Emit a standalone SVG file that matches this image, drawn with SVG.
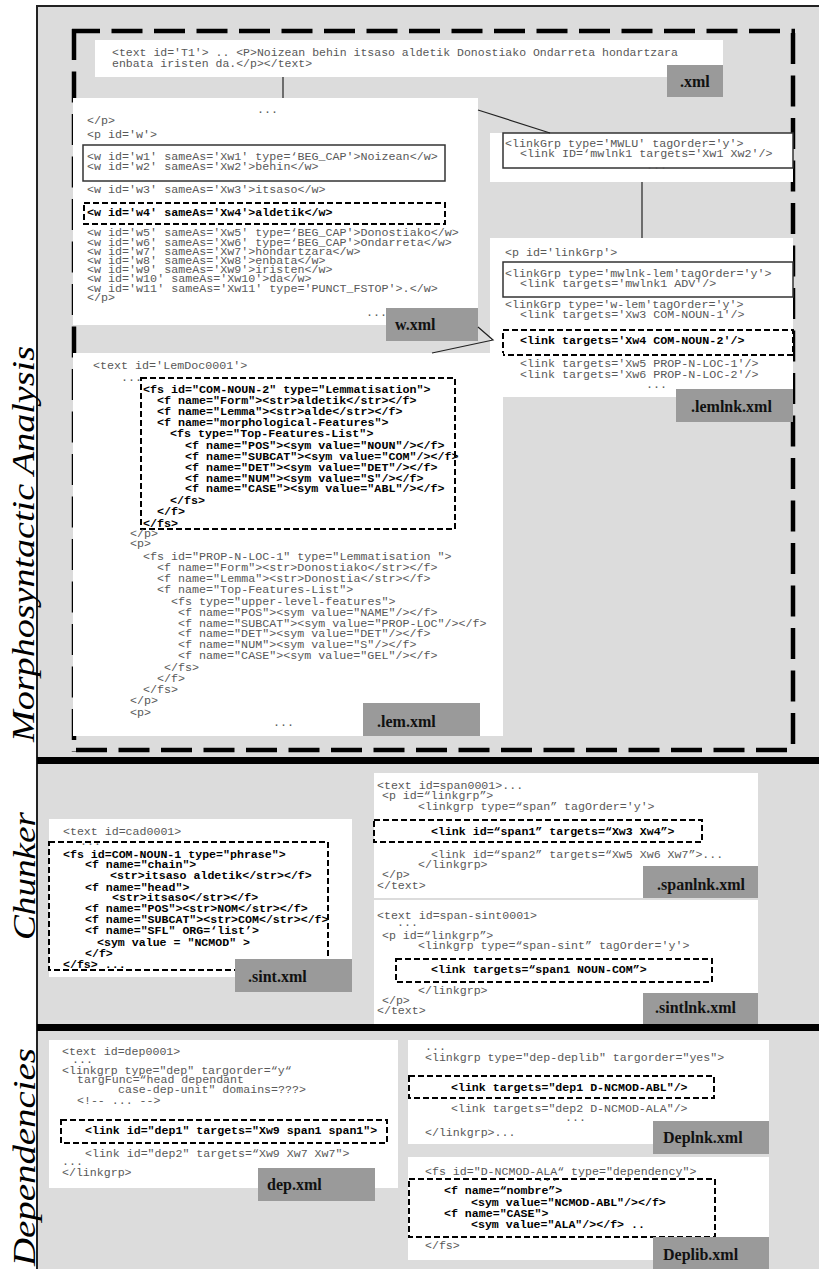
<svg xmlns="http://www.w3.org/2000/svg" width="819" height="1269" viewBox="0 0 819 1269">
<style>
.bg{fill:#dcdcdc}
.box{fill:#fff}
.tag{fill:#9a9a9a}
.tl{font-family:"Liberation Serif","Times New Roman",serif;font-weight:bold;font-size:16px;fill:#111}
.m{font-family:"Liberation Mono","Courier New",monospace;font-size:11.6px;fill:#585858}
.mw{font-size:11.7px}
.b{font-weight:bold;fill:#000}
.dr{fill:none;stroke:#000;stroke-width:2;stroke-dasharray:6 3}
.sr{fill:none;stroke:#333;stroke-width:1.5}
.big{stroke:#000;stroke-width:4.5;stroke-dasharray:31 11.5;fill:none}
.conn{stroke:#222;stroke-width:1.2;fill:none}
.side{font-family:"Liberation Serif","Times New Roman",serif;font-style:italic;font-size:31px;fill:#000}
</style>
<rect x="0" y="0" width="819" height="1269" fill="#fff"/>
<g id="frame">
<rect class="bg" x="37" y="6" width="782" height="1263"/>
<path d="M37,1269 V6 H819" stroke="#222" stroke-width="2" fill="none"/>
<rect x="37" y="757" width="782" height="7" fill="#000"/>
<rect x="37" y="1024" width="782" height="7" fill="#000"/>
</g>
<g id="section-labels">
<text class="side" transform="translate(34,544) rotate(-90)" text-anchor="middle" textLength="396" lengthAdjust="spacingAndGlyphs">Morphosyntactic Analysis</text>
<text class="side" transform="translate(35,876) rotate(-90)" text-anchor="middle" textLength="128" lengthAdjust="spacingAndGlyphs">Chunker</text>
<text class="side" transform="translate(35,1157) rotate(-90)" text-anchor="middle" textLength="218" lengthAdjust="spacingAndGlyphs">Dependencies</text>
</g>
<g id="morph-region">
<line class="big" x1="72" y1="31" x2="795" y2="31" stroke-dashoffset="3"/>
<line class="big" x1="74" y1="29" x2="74" y2="752"/>
<line class="big" x1="793" y1="33" x2="793" y2="752"/>
<line class="big" x1="76" y1="750" x2="795" y2="750"/>
</g>

<g id="n-t1">
<rect class="box" x="95" y="40" width="628" height="37"/>
<text class="m" style="font-size:11.5px"><tspan x="112" y="55.5">&lt;text id='T1'&gt; .. &lt;P&gt;Noizean behin itsaso aldetik Donostiako Ondarreta hondartzara</tspan><tspan x="112" y="67">enbata iristen da.&lt;/p&gt;&lt;/text&gt;</tspan></text>
<rect class="tag" x="667" y="65" width="56" height="32"/>
<text class="tl" x="680" y="87">.xml</text>
</g>

<g id="n-wxml">
<rect class="box" x="73" y="98" width="405" height="227"/>
<rect class="sr" x="83" y="145" width="362" height="36"/>
<rect class="dr" x="84" y="203" width="361" height="21"/>
<text class="m mw"><tspan x="257" y="113">...</tspan><tspan x="87" y="124">&lt;/p&gt;</tspan><tspan x="87" y="138">&lt;p id='w'&gt;</tspan><tspan x="87" y="160">&lt;w id='w1' sameAs='Xw1' type=‘BEG_CAP'&gt;Noizean&lt;/w&gt;</tspan><tspan x="87" y="169.5">&lt;w id='w2' sameAs='Xw2'&gt;behin&lt;/w&gt;</tspan><tspan x="87" y="193">&lt;w id='w3' sameAs='Xw3'&gt;itsaso&lt;/w&gt;</tspan><tspan class="b" x="87" y="215.5">&lt;w id='w4' sameAs='Xw4'&gt;aldetik&lt;/w&gt;</tspan><tspan x="87" y="235.5">&lt;w id='w5' sameAs='Xw5' type=‘BEG_CAP'&gt;Donostiako&lt;/w&gt;</tspan><tspan x="87" y="245.5">&lt;w id='w6' sameAs='Xw6' type=‘BEG_CAP'&gt;Ondarreta&lt;/w&gt;</tspan><tspan x="87" y="254.5">&lt;w id='w7' sameAs='Xw7'&gt;hondartzara&lt;/w&gt;</tspan><tspan x="87" y="263.5">&lt;w id='w8' sameAs='Xw8'&gt;enbata&lt;/w&gt;</tspan><tspan x="87" y="272.5">&lt;w id='w9' sameAs='Xw9'&gt;iristen&lt;/w&gt;</tspan><tspan x="87" y="281.5">&lt;w id='w10' sameAs='Xw10'&gt;da&lt;/w&gt;</tspan><tspan x="87" y="291.5">&lt;w id='w11' sameAs='Xw11' type='PUNCT_FSTOP'&gt;.&lt;/w&gt;</tspan><tspan x="87" y="300.5">&lt;/p&gt;</tspan><tspan x="366" y="316">...</tspan></text>
<rect class="tag" x="386" y="308" width="92" height="33"/>
<text class="tl" x="395" y="330">w.xml</text>
</g>

<g id="n-mwlu">
<rect class="box" x="490" y="133" width="303" height="49"/>
<rect class="sr" x="503" y="133" width="290" height="35"/>
<text class="m mw"><tspan x="505" y="146.5">&lt;linkGrp type='MWLU' tagOrder='y'&gt;</tspan><tspan x="520" y="156.5">&lt;link ID=‘mwlnk1 targets='Xw1 Xw2'/&gt;</tspan><tspan x="646" y="169">...</tspan></text>
</g>

<g id="n-lemlnk">
<rect class="box" x="490" y="238" width="303" height="159"/>
<rect class="sr" x="503" y="262" width="290" height="35"/>
<rect class="dr" x="503" y="330" width="290" height="25"/>
<text class="m mw"><tspan x="505" y="255.5">&lt;p id='linkGrp'&gt;</tspan><tspan x="505" y="276.5">&lt;linkGrp type='mwlnk-lem'tagOrder='y'&gt;</tspan><tspan x="520" y="286.5">&lt;link targets='mwlnk1 ADV'/&gt;</tspan><tspan x="505" y="307.5">&lt;linkGrp type='w-lem'tagOrder='y'&gt;</tspan><tspan x="520" y="317.5">&lt;link targets='Xw3 COM-NOUN-1'/&gt;</tspan><tspan class="b" x="520" y="343.5">&lt;link targets='Xw4 COM-NOUN-2'/&gt;</tspan><tspan x="520" y="366.5">&lt;link targets='Xw5 PROP-N-LOC-1'/&gt;</tspan><tspan x="520" y="377.5">&lt;link targets='Xw6 PROP-N-LOC-2'/&gt;</tspan><tspan x="646" y="388">...</tspan></text>
<rect class="tag" x="676" y="389" width="117" height="33"/>
<text class="tl" x="691" y="412">.lemlnk.xml</text>
</g>

<g id="n-lem">
<rect class="box" x="73" y="353" width="430" height="383"/>
<rect class="dr" x="141" y="378" width="314" height="151"/>
<text class="m mw"><tspan x="93" y="368.5">&lt;text id='LemDoc0001'&gt;</tspan><tspan x="121" y="381">...</tspan><tspan class="b" x="143" y="392.5">&lt;fs id="COM-NOUN-2" type="Lemmatisation"&gt;</tspan><tspan class="b" x="157" y="403.5">&lt;f name="Form"&gt;&lt;str&gt;aldetik&lt;/str&gt;&lt;/f&gt;</tspan><tspan class="b" x="157" y="414.5">&lt;f name="Lemma"&gt;&lt;str&gt;alde&lt;/str&gt;&lt;/f&gt;</tspan><tspan class="b" x="157" y="425.5">&lt;f name="morphological-Features"&gt;</tspan><tspan class="b" x="170" y="436.5">&lt;fs type="Top-Features-List"&gt;</tspan><tspan class="b" x="185" y="448.5">&lt;f name="POS"&gt;&lt;sym value="NOUN"/&gt;&lt;/f&gt;</tspan><tspan class="b" x="185" y="459.5">&lt;f name="SUBCAT"&gt;&lt;sym value="COM"/&gt;&lt;/f&gt;</tspan><tspan class="b" x="185" y="470.5">&lt;f name="DET"&gt;&lt;sym value="DET"/&gt;&lt;/f&gt;</tspan><tspan class="b" x="185" y="481.5">&lt;f name="NUM"&gt;&lt;sym value="S"/&gt;&lt;/f&gt;</tspan><tspan class="b" x="185" y="491.5">&lt;f name="CASE"&gt;&lt;sym value="ABL"/&gt;&lt;/f&gt;</tspan><tspan class="b" x="170" y="503.5">&lt;/fs&gt;</tspan><tspan class="b" x="157" y="515">&lt;/f&gt;</tspan><tspan class="b" x="143" y="526.5">&lt;/fs&gt;</tspan><tspan x="130" y="536.5">&lt;/p&gt;</tspan><tspan x="130" y="546.5">&lt;p&gt;</tspan><tspan x="143" y="559.5">&lt;fs id="PROP-N-LOC-1" type="Lemmatisation "&gt;</tspan><tspan x="157" y="570.5">&lt;f name="Form"&gt;&lt;str&gt;Donostiako&lt;/str&gt;&lt;/f&gt;</tspan><tspan x="157" y="581.5">&lt;f name="Lemma"&gt;&lt;str&gt;Donostia&lt;/str&gt;&lt;/f&gt;</tspan><tspan x="157" y="592.5">&lt;f name="Top-Features-List"&gt;</tspan><tspan x="171" y="604.5">&lt;fs type="upper-level-features"&gt;</tspan><tspan x="178" y="615.5">&lt;f name="POS"&gt;&lt;sym value="NAME"/&gt;&lt;/f&gt;</tspan><tspan x="178" y="626.5">&lt;f name="SUBCAT"&gt;&lt;sym value="PROP-LOC"/&gt;&lt;/f&gt;</tspan><tspan x="178" y="636.5">&lt;f name="DET"&gt;&lt;sym value="DET"/&gt;&lt;/f&gt;</tspan><tspan x="178" y="647.5">&lt;f name="NUM"&gt;&lt;sym value="S"/&gt;&lt;/f&gt;</tspan><tspan x="178" y="658.5">&lt;f name="CASE"&gt;&lt;sym value="GEL"/&gt;&lt;/f&gt;</tspan><tspan x="164" y="670.5">&lt;/fs&gt;</tspan><tspan x="157" y="681.5">&lt;/f&gt;</tspan><tspan x="143" y="692.5">&lt;/fs&gt;</tspan><tspan x="130" y="703.5">&lt;/p&gt;</tspan><tspan x="130" y="715.5">&lt;p&gt;</tspan><tspan x="273" y="726">...</tspan></text>
<rect class="tag" x="363" y="703" width="117" height="33"/>
<text class="tl" x="377" y="727">.lem.xml</text>
</g>

<g id="n-sint">
<rect class="box" x="49" y="819" width="303" height="158"/>
<rect class="dr" x="49" y="842" width="279" height="128"/>
<text class="m"><tspan x="63" y="834.5">&lt;text id=cad0001&gt;</tspan><tspan x="80" y="845">...</tspan><tspan class="b" x="63" y="857.5">&lt;fs id=COM-NOUN-1 type="phrase"&gt;</tspan><tspan class="b" x="85" y="867.5">&lt;f name="chain"&gt;</tspan><tspan class="b" x="110" y="878.5">&lt;str&gt;itsaso aldetik&lt;/str&gt;&lt;/f&gt;</tspan><tspan class="b" x="85" y="890.5">&lt;f name="head"&gt;</tspan><tspan class="b" x="112" y="900.5">&lt;str&gt;itsaso&lt;/str&gt;&lt;/f&gt;</tspan><tspan class="b" x="85" y="911.5">&lt;f name="POS"&gt;&lt;str&gt;NOM&lt;/str&gt;&lt;/f&gt;</tspan><tspan class="b" x="85" y="922.5">&lt;f name="SUBCAT"&gt;&lt;str&gt;COM&lt;/str&gt;&lt;/f&gt;</tspan><tspan class="b" x="85" y="933.5">&lt;f name="SFL" ORG=‘list’&gt;</tspan><tspan class="b" x="97" y="945.5">&lt;sym value = "NCMOD" &gt;</tspan><tspan class="b" x="85" y="956.5">&lt;/f&gt;</tspan><tspan class="b" x="63" y="967.5">&lt;/fs&gt; ...</tspan></text>
<rect class="tag" x="235" y="959" width="117" height="33"/>
<text class="tl" x="248" y="982">.sint.xml</text>
</g>

<g id="n-spanlnk">
<rect class="box" x="374" y="773" width="384" height="125"/>
<rect class="dr" x="374" y="820" width="328" height="22"/>
<text class="m"><tspan x="377" y="788.5">&lt;text id=span0001&gt;...</tspan><tspan x="382" y="798.5">&lt;p id=“linkgrp”&gt;</tspan><tspan x="418" y="809.5">&lt;linkgrp type=“span” tagOrder='y'&gt;</tspan><tspan class="b" x="431" y="834.5">&lt;link id=“span1” targets=“Xw3 Xw4”&gt;</tspan><tspan x="431" y="857.5">&lt;link id=“span2” targets=“Xw5 Xw6 Xw7”&gt;...</tspan><tspan x="418" y="867.5">&lt;/linkgrp&gt;</tspan><tspan x="382" y="877.5">&lt;/p&gt;</tspan><tspan x="377" y="888.5">&lt;/text&gt;</tspan></text>
<rect class="tag" x="643" y="866" width="115" height="32"/>
<text class="tl" x="657" y="890">.spanlnk.xml</text>
</g>

<g id="n-sintlnk">
<rect class="box" x="374" y="900" width="384" height="124"/>
<rect class="dr" x="396" y="959" width="316" height="23"/>
<text class="m"><tspan x="377" y="918.5">&lt;text id=span-sint0001&gt;</tspan><tspan x="397" y="926">...</tspan><tspan x="382" y="938.5">&lt;p id=“linkgrp”&gt;</tspan><tspan x="418" y="948.5">&lt;linkgrp type=“span-sint” tagOrder='y'&gt;</tspan><tspan class="b" x="431" y="972.5">&lt;link targets=“span1 NOUN-COM”&gt;</tspan><tspan x="418" y="993.5">&lt;/linkgrp&gt;</tspan><tspan x="382" y="1003.5">&lt;/p&gt;</tspan><tspan x="377" y="1013.5">&lt;/text&gt;</tspan></text>
<rect class="tag" x="643" y="993" width="115" height="31"/>
<text class="tl" x="655" y="1013">.sintlnk.xml</text>
</g>

<g id="n-dep">
<rect class="box" x="49" y="1040" width="349" height="148"/>
<rect class="dr" x="61" y="1120" width="326" height="23"/>
<text class="m"><tspan x="62" y="1054.5">&lt;text id=dep0001&gt;</tspan><tspan x="72" y="1063">...</tspan><tspan x="62" y="1073.5">&lt;linkgrp type="dep" targorder=“y“</tspan><tspan x="77" y="1082.5">targFunc=“head dependant</tspan><tspan x="118" y="1092.5">case-dep-unit" domains=???&gt;</tspan><tspan x="77" y="1103.5">&lt;!-- ... --&gt;</tspan><tspan class="b" x="85" y="1133.5">&lt;link id="dep1" targets="Xw9 span1 span1"&gt;</tspan><tspan x="85" y="1156.5">&lt;link id="dep2" targets=“Xw9 Xw7 Xw7"&gt;</tspan><tspan x="62" y="1165">...</tspan><tspan x="62" y="1175.5">&lt;/linkgrp&gt;</tspan></text>
<rect class="tag" x="258" y="1168" width="117" height="33"/>
<text class="tl" x="267" y="1190">dep.xml</text>
</g>

<g id="n-deplnk">
<rect class="box" x="408" y="1040" width="361" height="104"/>
<rect class="dr" x="409" y="1076" width="305" height="22"/>
<text class="m"><tspan x="425" y="1050">...</tspan><tspan x="425" y="1060.5">&lt;linkgrp type="dep-deplib" targorder="yes"&gt;</tspan><tspan class="b" x="451" y="1090.5">&lt;link targets="dep1 D-NCMOD-ABL"/&gt;</tspan><tspan x="451" y="1111.5">&lt;link targets="dep2 D-NCMOD-ALA"/&gt;</tspan><tspan x="565" y="1121">...</tspan><tspan x="425" y="1135.5">&lt;/linkgrp&gt;...</tspan></text>
<rect class="tag" x="653" y="1121" width="116" height="33"/>
<text class="tl" x="663" y="1143">Deplnk.xml</text>
</g>

<g id="n-deplib">
<rect class="box" x="408" y="1157" width="361" height="103"/>
<rect class="dr" x="409" y="1179" width="306" height="58"/>
<text class="m"><tspan x="425" y="1174.5">&lt;fs id="D-NCMOD-ALA“ type="dependency"&gt;</tspan><tspan x="537" y="1181">...</tspan><tspan class="b" x="444" y="1193.5">&lt;f name=“nombre”&gt;</tspan><tspan class="b" x="471" y="1205.5">&lt;sym value="NCMOD-ABL"/&gt;&lt;/f&gt;</tspan><tspan class="b" x="444" y="1216.5">&lt;f name="CASE"&gt;</tspan><tspan class="b" x="471" y="1227.5">&lt;sym value="ALA"/&gt;&lt;/f&gt; ..</tspan><tspan x="425" y="1248.5">&lt;/fs&gt;</tspan></text>
<rect class="tag" x="653" y="1237" width="116" height="32"/>
<text class="tl" x="663" y="1260">Deplib.xml</text>
</g>

<g id="connectors">
<line class="conn" x1="283" y1="77" x2="283" y2="98"/>
<line class="conn" x1="478" y1="110" x2="550" y2="133"/>
<line class="conn" x1="642" y1="182" x2="642" y2="238"/>
<polyline class="conn" points="478,327 493,340 432,353"/>
</g>
</svg>
